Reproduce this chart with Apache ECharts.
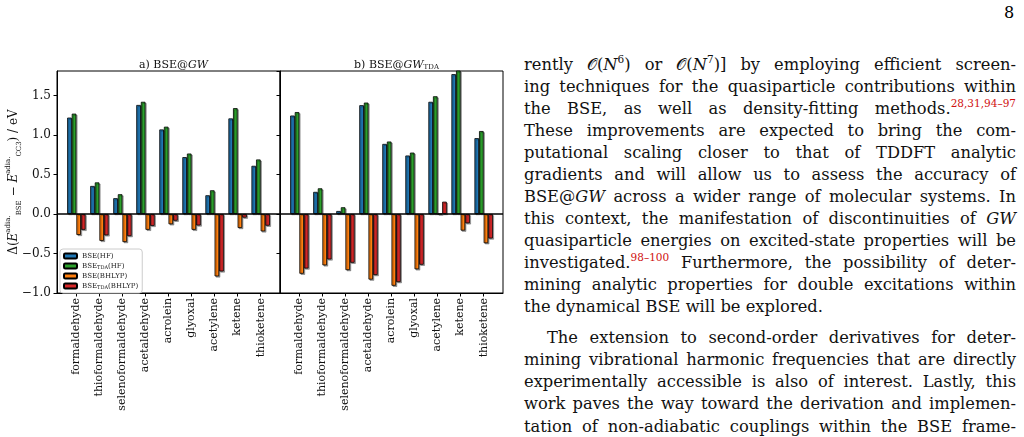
<!DOCTYPE html>
<html>
<head>
<meta charset="utf-8">
<script src="https://cdn.jsdelivr.net/npm/echarts@6/dist/echarts.min.js"></script>
<style>
  html, body { margin: 0; padding: 0; background: #fff; }
  #page { position: relative; width: 1024px; height: 437px; overflow: hidden; }
  #chart { position: absolute; left: 0; top: 0; width: 515px; height: 437px; }
  .txt { position: absolute; left: 524px; width: 492px; font-family: "DejaVu Serif", serif; font-size: 16.3px; color: #111; }
  .ln { position: absolute; left: 0; width: 492px; height: 22px; line-height: 22px; white-space: nowrap;
        text-align: justify; text-align-last: justify; }
  .ln.last { text-align-last: left; }
  .ln.ind { left: 23px; width: 469px; }
  .ln sup { font-size: 10.5px; line-height: 0; vertical-align: 7px; }
  .ref { color: #d01010; }
  #pnum { position: absolute; left: 1004px; top: 3px; font-family: "DejaVu Serif", serif; font-size: 16px; }
</style>
</head>
<body>
<div id="page">
  <div id="chart"></div>
  <div id="pnum">8</div>
  <div class="txt" id="txt"></div>
</div>
<script>
// molecules on the x axis
const molecules = ['formaldehyde', 'thioformaldehyde', 'selenoformaldehyde', 'acetaldehyde',
  'acrolein', 'glyoxal', 'acetylene', 'ketene', 'thioketene']
const seriesNames = ['BSE(HF)', 'BSE_TDA(HF)', 'BSE(BHLYP)', 'BSE_TDA(BHLYP)']
const colors = ['#1f77b4', '#2ca02c', '#ff7f0e', '#d62728']

// a) BSE@GW
const gwHF = [1.22, 0.355, 0.20, 1.38, 1.07, 0.72, 0.237, 1.21, 0.61]
const gwTdaHF = [1.27, 0.40, 0.25, 1.42, 1.105, 0.765, 0.30, 1.34, 0.69]
const gwBHLYP = [-0.265, -0.34, -0.355, -0.20, -0.13, -0.20, -0.79, -0.177, -0.22]
const gwTdaBHLYP = [-0.20, -0.27, -0.28, -0.15, -0.085, -0.145, -0.727, -0.046, -0.148]

// b) BSE@GW_TDA
const gwtHF = [1.246, 0.28, 0.038, 1.377, 0.887, 0.74, 1.42, 1.77, 0.96]
const gwtTdaHF = [1.29, 0.325, 0.085, 1.41, 0.917, 0.777, 1.49, 1.83, 1.05]
const gwtBHLYP = [-0.756, -0.65, -0.71, -0.83, -0.908, -0.70, 0, -0.21, -0.37]
const gwtTdaBHLYP = [-0.69, -0.575, -0.617, -0.773, -0.862, -0.642, 0.156, -0.118, -0.31]

// text column
const lines = [
  'rently 𝒪(<i>N</i><sup>6</sup>) or 𝒪(<i>N</i><sup>7</sup>)] by employing efficient screen-',
  'ing techniques for the quasiparticle contributions within',
  'the BSE, as well as density-fitting methods.<sup class="ref">28,31,94–97</sup>',
  'These improvements are expected to bring the com-',
  'putational scaling closer to that of TDDFT analytic',
  'gradients and will allow us to assess the accuracy of',
  'BSE@<i>GW</i> across a wider range of molecular systems. In',
  'this context, the manifestation of discontinuities of <i>GW</i>',
  'quasiparticle energies on excited-state properties will be',
  'investigated.<sup class="ref">98–100</sup> Furthermore, the possibility of deter-',
  'mining analytic properties for double excitations within',
  'the dynamical BSE will be explored.',
  'The extension to second-order derivatives for deter-',
  'mining vibrational harmonic frequencies that are directly',
  'experimentally accessible is also of interest. Lastly, this',
  'work paves the way toward the derivation and implemen-',
  'tation of non-adiabatic couplings within the BSE frame-'
]
const lineTops = [54, 76, 98, 120, 142, 164, 186, 208, 230, 252, 274, 296, 327, 349, 371, 393, 416]
let html = ''
lines.forEach((l, i) => {
  let cls = 'ln'
  if (i === 11) cls += ' last'
  if (i === 12) cls += ' ind'
  html += '<div class="' + cls + '" style="top:' + lineTops[i] + 'px">' + l + '</div>'
})
document.getElementById('txt').innerHTML = html

const serif = 'DejaVu Serif'
const legendFmt = (name) => name.replace('_TDA', '{s|TDA}')

function makeSeries(vals, idx, gi) {
  const s = {
    name: seriesNames[idx],
    type: 'bar',
    xAxisIndex: gi,
    yAxisIndex: gi,
    barWidth: 4.6,
    barGap: '0%',
    data: vals.map((v, i) => [i, v]),
    itemStyle: {
      color: colors[idx],
      borderColor: '#000',
      borderWidth: 0.8,
      shadowColor: 'rgba(0,0,0,0.35)',
      shadowOffsetX: 1.2,
      shadowOffsetY: 1.2,
    },
  }
  if (idx === 0) {
    s.markLine = {
      silent: true,
      symbol: ['none', 'none'],
      label: { show: false },
      lineStyle: { color: '#000', width: 1.5, type: 'solid' },
      data: [{ yAxis: 0 }],
    }
  }
  return s
}

function xAx(gi) {
  return {
    type: 'value',
    gridIndex: gi,
    min: -0.84,
    max: 8.84,
    axisLine: { show: true, onZero: false, lineStyle: { color: '#000', width: 1 } },
    axisTick: { show: true, length: 3.5, inside: false, lineStyle: { color: '#000' }, customValues: molecules.map((m, i) => i) },
    axisLabel: {
      rotate: 90, margin: 5, fontFamily: serif, fontSize: 11, color: '#111',
      customValues: molecules.map((m, i) => i),
      formatter: (v) => molecules[Math.round(v)],
    },
    splitLine: { show: false },
  }
}

function yAx(gi) {
  const y = {
    type: 'value',
    gridIndex: gi,
    min: -1.0,
    max: 1.81,
    interval: 0.5,
    axisLine: { show: true, onZero: false, lineStyle: { color: '#000', width: 1 } },
    axisTick: { show: true, length: 3.5, lineStyle: { color: '#000' } },
    axisLabel: {
      show: gi === 0, fontFamily: serif, fontSize: 12, color: '#111', margin: 6,
      formatter: (v) => (v < 0 ? '−' + Math.abs(v).toFixed(1) : v.toFixed(1)),
      showMaxLabel: false,
    },
    splitLine: { show: false },
  }
  if (gi === 0) {
    y.name = '{t|Δ(}{i|E}{sup|adia.}{sub|BSE}{t| − }{i|E}{sup|adia.}{sub|CC3}{t|) / eV}'
    y.nameLocation = 'middle'
    y.nameGap = 34
    y.nameMoveOverlap = false
    y.nameRotate = 90
    y.nameTextStyle = {
      rich: {
        t: { fontFamily: serif, fontSize: 12, color: '#111', lineHeight: 18 },
        i: { fontFamily: serif, fontSize: 12, fontStyle: 'italic', color: '#111', lineHeight: 18 },
        sup: { fontFamily: serif, fontSize: 7, color: '#111', verticalAlign: 'top', lineHeight: 18 },
        sub: { fontFamily: serif, fontSize: 7, color: '#111', verticalAlign: 'bottom', lineHeight: 18 },
      },
    }
  }
  return y
}

const chart = echarts.init(document.getElementById('chart'))
chart.setOption({
  animation: false,
  backgroundColor: '#fff',
  title: [
    {
      text: 'a) BSE@{i|GW}', left: 168.5, top: 55, textAlign: 'center',
      textStyle: { fontFamily: serif, fontSize: 11, fontWeight: 'normal', color: '#111',
        rich: { i: { fontFamily: serif, fontSize: 11, fontStyle: 'italic', color: '#111' } } },
    },
    {
      text: 'b) BSE@{i|GW}{s|TDA}', left: 391.5, top: 55, textAlign: 'center',
      textStyle: { fontFamily: serif, fontSize: 11, fontWeight: 'normal', color: '#111',
        rich: {
          i: { fontFamily: serif, fontSize: 11, fontStyle: 'italic', color: '#111' },
          s: { fontFamily: serif, fontSize: 7, color: '#111', verticalAlign: 'bottom', padding: [4, 0, 0, 0] },
        } },
    },
  ],
  legend: {
    data: seriesNames,
    orient: 'vertical',
    left: 60,
    top: 249,
    padding: [3, 4, 3, 3],
    itemWidth: 13,
    itemHeight: 5,
    itemGap: 2,
    backgroundColor: '#fff',
    borderColor: '#ccc',
    borderWidth: 1,
    borderRadius: 3,
    formatter: legendFmt,
    textStyle: {
      fontFamily: serif, fontSize: 7, color: '#222', lineHeight: 8,
      rich: { s: { fontFamily: serif, fontSize: 5, color: '#222', verticalAlign: 'bottom', padding: [3, 0, 0, 0] } },
    },
    z: 10,
  },
  grid: [
    { left: 57, top: 71, width: 223, height: 222, show: true, borderColor: '#000', borderWidth: 1, backgroundColor: 'transparent' },
    { left: 280, top: 71, width: 223, height: 222, show: true, borderColor: '#000', borderWidth: 1, backgroundColor: 'transparent' },
  ],
  xAxis: [xAx(0), xAx(1)],
  yAxis: [yAx(0), yAx(1)],
  series: [
    makeSeries(gwHF, 0, 0),
    makeSeries(gwTdaHF, 1, 0),
    makeSeries(gwBHLYP, 2, 0),
    makeSeries(gwTdaBHLYP, 3, 0),
    makeSeries(gwtHF, 0, 1),
    makeSeries(gwtTdaHF, 1, 1),
    makeSeries(gwtBHLYP, 2, 1),
    makeSeries(gwtTdaBHLYP, 3, 1),
  ],
})
</script>
</body>
</html>
